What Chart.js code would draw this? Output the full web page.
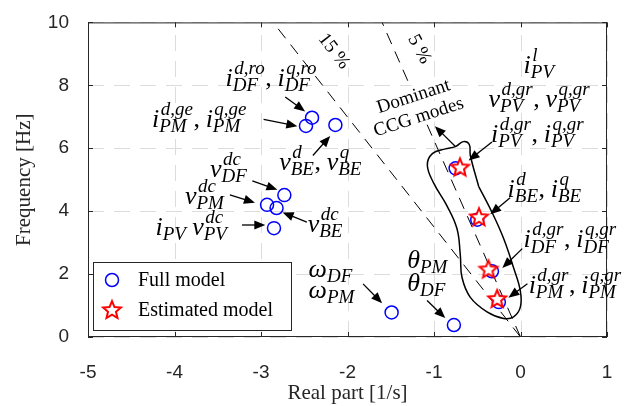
<!DOCTYPE html>
<html>
<head>
<meta charset="utf-8">
<script src="https://cdn.jsdelivr.net/npm/chart.js@4"></script>
<style>
  html, body { margin: 0; background: #fff; }
  #wrap { width: 642px; height: 406px; }
</style>
</head>
<body>
<div id="wrap"><canvas id="chart"></canvas></div>
<script>
// eigenvalues, real part [1/s] and frequency [Hz]
const fullRe = [-2.41, -2.48, -2.14, -2.73, -2.93, -2.82, -2.85, -1.49, -0.77, -0.75, -0.50, -0.33, -0.25];
const fullHz = [6.97, 6.71, 6.74, 4.51, 4.20, 4.10, 3.46, 0.78, 0.38, 5.36, 3.73, 2.09, 1.11];
const estRe = [-0.70, -0.48, -0.37, -0.27];
const estHz = [5.39, 3.81, 2.15, 1.21];

// outline around the dominant CCG modes
const contourRe = [-0.484, -0.329, -0.195, -0.080, -0.002, -0.002, -0.080, -0.195, -0.387, -0.580, -0.676,
  -0.696, -0.734, -0.850, -1.005, -1.077, -1.019, -0.869, -0.754, -0.661, -0.592, -0.580, -0.484];
const contourHz = [4.79, 3.96, 3.13, 2.20, 1.47, 0.95, 0.64, 0.59, 0.80, 1.26, 1.89,
  2.61, 3.44, 4.17, 4.90, 5.46, 5.83, 5.98, 6.05, 6.21, 6.12, 5.77, 4.79];

// damping ratio lines
const damp15Re = [0, -2.86];
const damp15Hz = [0, 10];
const damp5Re = [0, -1.60];
const damp5Hz = [0, 10];

const xTicks = [-5, -4, -3, -2, -1, 0, 1];
const yTicks = [0, 2, 4, 6, 8, 10];

// mode names: text, left x, baseline y (data units)
const modeLabels = [
  ['i^{d,ro}_{DF}, i^{q,ro}_{DF}', -3.41, 7.98],
  ['i^{d,ge}_{PM}, i^{q,ge}_{PM}', -4.26, 6.67],
  ['v^{dc}_{DF}', -3.59, 5.08],
  ['v^{dc}_{PM}', -3.88, 4.24],
  ['i_{PV} v^{dc}_{PV}', -4.22, 3.25],
  ['v^{d}_{BE}, v^{q}_{BE}', -2.79, 5.30],
  ['v^{dc}_{BE}', -2.46, 3.34],
  ['ω_{DF}', -2.45, 1.91],
  ['ω_{PM}', -2.45, 1.25],
  ['θ_{PM}', -1.31, 2.20],
  ['θ_{DF}', -1.31, 1.47],
  ['i^{l}_{PV}', 0.036, 8.40],
  ['v^{d,gr}_{PV}, v^{q,gr}_{PV}', -0.37, 7.32],
  ['i^{d,gr}_{PV}, i^{q,gr}_{PV}', -0.34, 6.19],
  ['i^{d}_{BE}, i^{q}_{BE}', -0.149, 4.46],
  ['i^{d,gr}_{DF}, i^{q,gr}_{DF}', 0.036, 2.85],
  ['i^{d,gr}_{PM}, i^{q,gr}_{PM}', 0.094, 1.40]
];

// arrows: from (x1,y1) to (x2,y2), data units
const arrows = [
  [-2.72, 7.63, -2.49, 7.17],
  [-2.97, 6.92, -2.58, 6.70],
  [-2.40, 5.77, -2.20, 6.39],
  [-3.10, 4.96, -2.81, 4.68],
  [-3.36, 4.52, -3.07, 4.27],
  [-3.22, 3.56, -2.95, 3.56],
  [-2.47, 3.65, -2.75, 3.96],
  [-1.82, 1.69, -1.60, 1.07],
  [-1.08, 1.16, -0.87, 0.60],
  [-0.75, 6.05, -0.99, 6.70],
  [-0.33, 6.20, -0.60, 5.61],
  [-0.12, 4.43, -0.35, 3.90],
  [0.02, 2.81, -0.21, 2.19],
  [0.08, 1.69, -0.14, 1.25]
];

// upright rotated notes: text, centre x, centre y, angle (deg)
const notes = [
  ['15 %', -2.15, 9.10, 52],
  ['5 %', -1.16, 9.16, 62],
  ['Dominant', -1.24, 7.67, -18],
  ['CCG modes', -1.18, 7.01, -18]
];

const MAIN = 26, SCRIPT = 19;
const AXIS = '#262626';

function starCanvas() {
  const c = document.createElement('canvas');
  c.width = 24; c.height = 24;
  const g = c.getContext('2d');
  g.beginPath();
  for (let k = 0; k < 10; k++) {
    const r = k % 2 ? 4.2 : 9.3;
    const a = -Math.PI / 2 + k * Math.PI / 5;
    const px = 12 + r * Math.cos(a), py = 12.5 + r * Math.sin(a);
    k ? g.lineTo(px, py) : g.moveTo(px, py);
  }
  g.closePath();
  g.fillStyle = '#fff';
  g.fill();
  g.strokeStyle = '#ff0000';
  g.lineWidth = 2;
  g.stroke();
  return c;
}
const star = starCanvas();

function parseMath(s) {
  const toks = [];
  let i = 0;
  const group = () => {
    if (s[i] === '{') { const j = s.indexOf('}', i); const g = s.slice(i + 1, j); i = j + 1; return g; }
    return s[i++];
  };
  while (i < s.length) {
    const c = s[i];
    if (c === '^') { i++; toks[toks.length - 1].sup = group(); }
    else if (c === '_') { i++; toks[toks.length - 1].sub = group(); }
    else { toks.push({ base: c }); i++; }
  }
  return toks;
}

function drawMath(ctx, s, x, y) {
  let cx = x;
  for (const t of parseMath(s)) {
    if (t.base === ' ') { cx += MAIN * 0.22; continue; }
    ctx.font = (t.base === ',' ? '' : 'italic ') + MAIN + 'px "Liberation Serif"';
    ctx.fillText(t.base, cx, y);
    cx += ctx.measureText(t.base).width;
    if (t.sup || t.sub) {
      ctx.font = 'italic ' + SCRIPT + 'px "Liberation Serif"';
      let w = 0;
      if (t.sup) { ctx.fillText(t.sup, cx + 1.5, y - MAIN * 0.46); w = ctx.measureText(t.sup).width + 1.5; }
      if (t.sub) {
        ctx.fillText(t.sub, cx, y + MAIN * 0.2);
        w = Math.max(w, ctx.measureText(t.sub).width);
      }
      cx += w + 0.5;
    }
  }
}

function drawArrow(ctx, x1, y1, x2, y2) {
  const a = Math.atan2(y2 - y1, x2 - x1);
  const L = 11, W = 4.5;
  ctx.beginPath();
  ctx.moveTo(x1, y1);
  ctx.lineTo(x2 - L * 0.8 * Math.cos(a), y2 - L * 0.8 * Math.sin(a));
  ctx.stroke();
  ctx.beginPath();
  ctx.moveTo(x2, y2);
  ctx.lineTo(x2 - L * Math.cos(a) + W * Math.sin(a), y2 - L * Math.sin(a) - W * Math.cos(a));
  ctx.lineTo(x2 - L * Math.cos(a) - W * Math.sin(a), y2 - L * Math.sin(a) + W * Math.cos(a));
  ctx.closePath();
  ctx.fill();
}

// dashed grid drawn under the data
const dashedGrid = {
  id: 'dashedGrid',
  beforeDatasetsDraw(chart) {
    const { ctx, chartArea: ca, scales: { x, y } } = chart;
    ctx.save();
    ctx.strokeStyle = '#dcdcdc';
    ctx.lineWidth = 1;
    ctx.setLineDash([16, 10]);
    ctx.beginPath();
    xTicks.forEach(v => {
      const px = Math.round(x.getPixelForValue(v)) + 0.5;
      ctx.moveTo(px, ca.bottom); ctx.lineTo(px, ca.top);
    });
    yTicks.forEach(v => {
      const py = Math.round(y.getPixelForValue(v)) + 0.5;
      ctx.moveTo(ca.left, py); ctx.lineTo(ca.right, py);
    });
    ctx.stroke();
    ctx.restore();
  }
};

const extras = {
  id: 'extras',
  afterDraw(chart) {
    const { ctx, chartArea: ca, scales: { x, y } } = chart;
    ctx.save();

    // box and inward ticks
    ctx.strokeStyle = AXIS;
    ctx.lineWidth = 1;
    ctx.strokeRect(ca.left + 0.5, ca.top + 0.5, ca.right - ca.left - 1, ca.bottom - ca.top - 1);
    ctx.beginPath();
    xTicks.forEach(v => {
      const px = Math.round(x.getPixelForValue(v)) + 0.5;
      ctx.moveTo(px, ca.bottom); ctx.lineTo(px, ca.bottom - 5);
      ctx.moveTo(px, ca.top); ctx.lineTo(px, ca.top + 5);
    });
    yTicks.forEach(v => {
      const py = Math.round(y.getPixelForValue(v)) + 0.5;
      ctx.moveTo(ca.left, py); ctx.lineTo(ca.left + 5, py);
      ctx.moveTo(ca.right, py); ctx.lineTo(ca.right - 5, py);
    });
    ctx.stroke();

    // rotated notes with white background
    ctx.font = '19px "Liberation Serif"';
    ctx.textAlign = 'center';
    ctx.textBaseline = 'middle';
    notes.forEach(([t, vx, vy, deg]) => {
      ctx.save();
      ctx.translate(x.getPixelForValue(vx), y.getPixelForValue(vy));
      ctx.rotate(deg * Math.PI / 180);
      const w = ctx.measureText(t).width;
      ctx.fillStyle = '#fff';
      ctx.fillRect(-w / 2 - 2, -10, w + 4, 20);
      ctx.fillStyle = '#000';
      ctx.fillText(t, 0, 1);
      ctx.restore();
    });

    // arrows
    ctx.strokeStyle = '#000';
    ctx.fillStyle = '#000';
    ctx.lineWidth = 1.3;
    arrows.forEach(([a, b, c, d]) => drawArrow(ctx,
      x.getPixelForValue(a), y.getPixelForValue(b), x.getPixelForValue(c), y.getPixelForValue(d)));

    // mode labels
    ctx.textAlign = 'left';
    ctx.textBaseline = 'alphabetic';
    ctx.fillStyle = '#000';
    modeLabels.forEach(([t, vx, vy]) => drawMath(ctx, t, x.getPixelForValue(vx), y.getPixelForValue(vy)));

    // legend
    const bx = ca.left + 5, by = ca.bottom - 75;
    ctx.fillStyle = '#fff';
    ctx.fillRect(bx, by, 198, 68);
    ctx.strokeStyle = AXIS;
    ctx.lineWidth = 1;
    ctx.strokeRect(bx + 0.5, by + 0.5, 198, 68);
    ctx.strokeStyle = '#0000ff';
    ctx.lineWidth = 1.5;
    ctx.beginPath();
    ctx.arc(bx + 19, by + 18, 6.5, 0, Math.PI * 2);
    ctx.stroke();
    ctx.drawImage(star, bx + 19 - 12, by + 48 - 12);
    ctx.fillStyle = '#000';
    ctx.font = '20px "Liberation Serif"';
    ctx.textBaseline = 'middle';
    ctx.fillText(chart.data.datasets[1].label, bx + 45, by + 19);
    ctx.fillText(chart.data.datasets[0].label, bx + 45, by + 49);
    ctx.restore();
  }
};

const pts = (xs, ys) => xs.map((v, i) => ({ x: v, y: ys[i] }));

new Chart(document.getElementById('chart'), {
  type: 'scatter',
  data: {
    datasets: [
      {
        label: 'Estimated model',
        data: pts(estRe, estHz),
        pointStyle: star,
        pointRadius: 10
      },
      {
        label: 'Full model',
        data: pts(fullRe, fullHz),
        pointStyle: 'circle',
        pointRadius: 6.5,
        borderColor: '#0000ff',
        backgroundColor: 'rgba(0,0,0,0)',
        borderWidth: 1.5
      },
      {
        label: 'contour',
        data: pts(contourRe, contourHz),
        showLine: true,
        tension: 0.4,
        pointRadius: 0,
        borderColor: '#000',
        borderWidth: 1.5
      },
      {
        label: '15 %',
        data: pts(damp15Re, damp15Hz),
        showLine: true,
        pointRadius: 0,
        borderColor: '#000',
        borderWidth: 1,
        borderDash: [12, 8]
      },
      {
        label: '5 %',
        data: pts(damp5Re, damp5Hz),
        showLine: true,
        pointRadius: 0,
        borderColor: '#000',
        borderWidth: 1,
        borderDash: [12, 8]
      }
    ]
  },
  options: {
    responsive: true,
    maintainAspectRatio: false,
    animation: false,
    layout: { padding: { left: 0, right: 35, top: 16, bottom: 0 } },
    plugins: { legend: { display: false }, tooltip: { enabled: false } },
    scales: {
      x: {
        type: 'linear',
        min: -5, max: 1,
        afterBuildTicks: s => { s.ticks = xTicks.map(v => ({ value: v })); },
        afterFit: s => { s.height = 69; },
        grid: { display: false },
        border: { display: false },
        ticks: { color: AXIS, padding: 16, font: { family: 'Liberation Sans', size: 19 } },
        title: {
          display: true, text: 'Real part [1/s]', color: AXIS,
          font: { family: 'Liberation Serif', size: 21 }, padding: { top: 0, bottom: 0 }
        }
      },
      y: {
        type: 'linear',
        min: 0, max: 10,
        afterBuildTicks: s => { s.ticks = yTicks.map(v => ({ value: v })); },
        afterFit: s => { s.width = 88; },
        grid: { display: false },
        border: { display: false },
        ticks: { color: AXIS, padding: 11, font: { family: 'Liberation Sans', size: 19 } },
        title: {
          display: true, text: 'Frequency [Hz]', color: AXIS,
          font: { family: 'Liberation Serif', size: 21 }, padding: { top: 12, bottom: 0 }
        }
      }
    }
  },
  plugins: [dashedGrid, extras]
});
</script>
</body>
</html>
